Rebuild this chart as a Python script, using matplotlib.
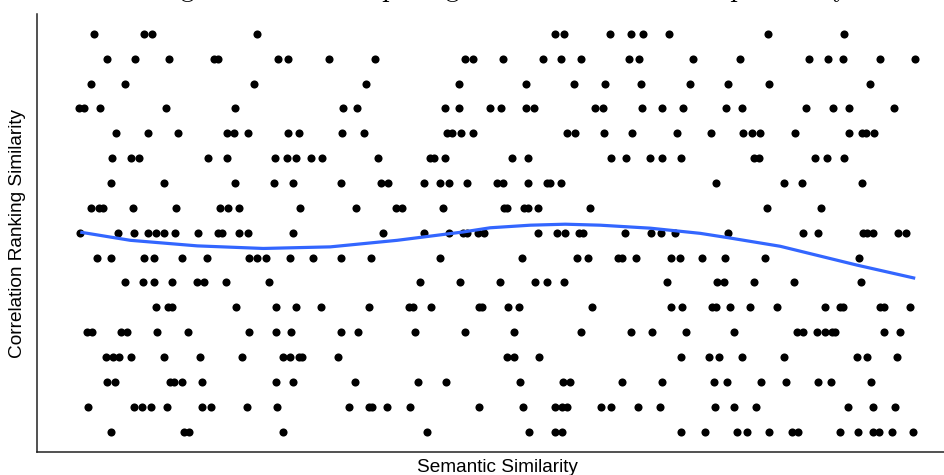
import numpy as np
import matplotlib
matplotlib.use("Agg")
import matplotlib.pyplot as plt

# ---- data: semantic similarity (x) per correlation-ranking-similarity level (y) ----
levels = [1.0, 0.875, 0.75, 0.625, 0.5, 0.375, 0.25, 0.125, 0.0,
          -0.125, -0.25, -0.375, -0.5, -0.625, -0.75, -0.875, -1.0]

x_p1000 = [0.094, 0.144, 0.152, 0.257, 0.555, 0.564, 0.610, 0.631, 0.643, 0.669, 0.768, 0.844]
x_p0875 = [0.107, 0.135, 0.169, 0.214, 0.218, 0.278, 0.288, 0.329, 0.375, 0.465, 0.473, 0.503,
           0.543, 0.561, 0.581, 0.629, 0.639, 0.693, 0.740, 0.809, 0.828, 0.843, 0.880, 0.915]
x_p0750 = [0.091, 0.125, 0.254, 0.366, 0.459, 0.526, 0.574, 0.605, 0.641, 0.690, 0.728, 0.769, 0.870]
x_p0625 = [0.079, 0.084, 0.100, 0.166, 0.235, 0.343, 0.357, 0.445, 0.459, 0.490, 0.501, 0.526,
           0.534, 0.595, 0.603, 0.642, 0.662, 0.683, 0.726, 0.742, 0.806, 0.833, 0.849, 0.894]
x_p0500 = [0.116, 0.148, 0.178, 0.227, 0.234, 0.248, 0.288, 0.299, 0.342, 0.364, 0.447, 0.452,
           0.461, 0.473, 0.567, 0.575, 0.604, 0.632, 0.677, 0.711, 0.743, 0.752, 0.760, 0.795,
           0.849, 0.862, 0.866, 0.874]
x_p0375 = [0.112, 0.131, 0.139, 0.208, 0.227, 0.275, 0.287, 0.296, 0.311, 0.322, 0.378, 0.430,
           0.434, 0.445, 0.512, 0.528, 0.611, 0.626, 0.650, 0.662, 0.681, 0.754, 0.759, 0.815,
           0.827, 0.844]
x_p0250 = [0.111, 0.164, 0.235, 0.274, 0.293, 0.341, 0.381, 0.388, 0.424, 0.440, 0.449, 0.467,
           0.497, 0.503, 0.528, 0.547, 0.550, 0.561, 0.716, 0.784, 0.802, 0.862]
x_p0125 = [0.091, 0.099, 0.103, 0.133, 0.176, 0.220, 0.228, 0.239, 0.300, 0.356, 0.396, 0.402,
           0.443, 0.504, 0.507, 0.524, 0.528, 0.538, 0.590, 0.767, 0.821]
x_z0000 = [0.080, 0.118, 0.134, 0.148, 0.156, 0.164, 0.175, 0.198, 0.218, 0.222, 0.239, 0.248,
           0.293, 0.383, 0.424, 0.449, 0.463, 0.467, 0.478, 0.484, 0.538, 0.557, 0.565, 0.579,
           0.583, 0.625, 0.651, 0.661, 0.675, 0.728, 0.803, 0.818, 0.863, 0.867, 0.873, 0.898, 0.906]
x_m0125 = [0.097, 0.111, 0.144, 0.154, 0.182, 0.207, 0.249, 0.257, 0.266, 0.290, 0.313, 0.341,
           0.371, 0.440, 0.522, 0.577, 0.588, 0.618, 0.622, 0.636, 0.671, 0.680, 0.702, 0.725,
           0.765, 0.859]
x_m0250 = [0.125, 0.143, 0.154, 0.172, 0.197, 0.204, 0.226, 0.269, 0.420, 0.460, 0.500, 0.535,
           0.547, 0.564, 0.667, 0.717, 0.724, 0.754, 0.794, 0.861]
x_m0375 = [0.156, 0.168, 0.172, 0.236, 0.276, 0.296, 0.321, 0.369, 0.409, 0.413, 0.431, 0.479,
           0.482, 0.508, 0.519, 0.592, 0.671, 0.682, 0.712, 0.716, 0.730, 0.750, 0.777, 0.825,
           0.840, 0.843, 0.880, 0.884, 0.910]
x_m0500 = [0.087, 0.092, 0.121, 0.127, 0.157, 0.188, 0.249, 0.276, 0.291, 0.341, 0.358, 0.415,
           0.465, 0.514, 0.581, 0.631, 0.652, 0.686, 0.734, 0.797, 0.803, 0.817, 0.825, 0.832,
           0.835, 0.884, 0.900]
x_m0625 = [0.106, 0.113, 0.119, 0.131, 0.164, 0.200, 0.242, 0.283, 0.290, 0.299, 0.302, 0.338,
           0.507, 0.514, 0.539, 0.681, 0.709, 0.719, 0.742, 0.784, 0.857, 0.867, 0.897]
x_m0750 = [0.107, 0.115, 0.170, 0.174, 0.182, 0.202, 0.276, 0.293, 0.355, 0.418, 0.446, 0.520,
           0.563, 0.570, 0.622, 0.662, 0.714, 0.727, 0.761, 0.786, 0.818, 0.831, 0.871]
x_m0875 = [0.088, 0.134, 0.142, 0.151, 0.167, 0.202, 0.211, 0.247, 0.277, 0.349, 0.369, 0.372,
           0.387, 0.410, 0.479, 0.523, 0.555, 0.562, 0.567, 0.601, 0.611, 0.638, 0.660, 0.715,
           0.734, 0.756, 0.848, 0.873, 0.895]
x_m1000 = [0.111, 0.184, 0.189, 0.283, 0.427, 0.529, 0.555, 0.562, 0.681, 0.705, 0.737, 0.747,
           0.769, 0.792, 0.798, 0.840, 0.858, 0.873, 0.879, 0.892, 0.913]

row_x = [x_p1000, x_p0875, x_p0750, x_p0625, x_p0500, x_p0375, x_p0250, x_p0125, x_z0000,
         x_m0125, x_m0250, x_m0375, x_m0500, x_m0625, x_m0750, x_m0875, x_m1000]

# smoothed trend (loess line)
smooth_x = [0.080, 0.130, 0.197, 0.263, 0.330, 0.397, 0.463, 0.490, 0.530, 0.565, 0.600,
            0.650, 0.700, 0.728, 0.780, 0.857, 0.915]
smooth_y = [0.003, -0.038, -0.066, -0.079, -0.071, -0.038, 0.004, 0.025, 0.038, 0.043, 0.038,
            0.023, -0.003, -0.025, -0.068, -0.163, -0.229]

title_text = "Evaluating Methods: Comparing Correlation to Overlap Density"
x_label = "Semantic Similarity"
y_label = "Correlation Ranking Similarity"

x = np.concatenate([np.array(r, float) for r in row_x])
y = np.concatenate([np.full(len(r), lv) for r, lv in zip(row_x, levels)])

# ---- figure ----
W, H = 945, 475
fig = plt.figure(figsize=(W / 100, H / 100), dpi=100)
fig.patch.set_facecolor("white")

xr = x.max() - x.min()
yr = y.max() - y.min()
xlim = (x.min() - 0.05 * xr, x.max() + 0.05 * xr)
ylim = (y.min() - 0.05 * yr, y.max() + 0.05 * yr)

left_px, right_px = 37.5, 957.0
top_px, bot_px = 14.0, 451.5
ax = fig.add_axes([left_px / W, 1 - bot_px / H, (right_px - left_px) / W, (bot_px - top_px) / H])
ax.set_xlim(*xlim)
ax.set_ylim(*ylim)

ax.scatter(x, y, s=34, color="black", linewidths=0, zorder=2)
ax.plot(smooth_x, smooth_y, color="#3366FF", lw=2.3, zorder=3,
        solid_capstyle="butt", solid_joinstyle="round")

for s in ["top", "right"]:
    ax.spines[s].set_visible(False)
for s in ["left", "bottom"]:
    ax.spines[s].set_color("#222222")
    ax.spines[s].set_linewidth(1.1)
ax.set_xticks([])
ax.set_yticks([])

fig.text(497 / W, 1 - 467 / H, x_label, ha="center", va="center",
         fontsize=13.7, family="Liberation Sans", color="black")
fig.text(18 / W, 1 - 233 / H, y_label, ha="center", va="center", rotation=90,
         fontsize=13.7, family="Liberation Sans", color="black")
fig.text(455 / W, 1 + 4 / H, title_text, ha="center", va="baseline",
         fontsize=20, family="cmr10", color="black")

fig.savefig("out.png", dpi=100, facecolor="white")
